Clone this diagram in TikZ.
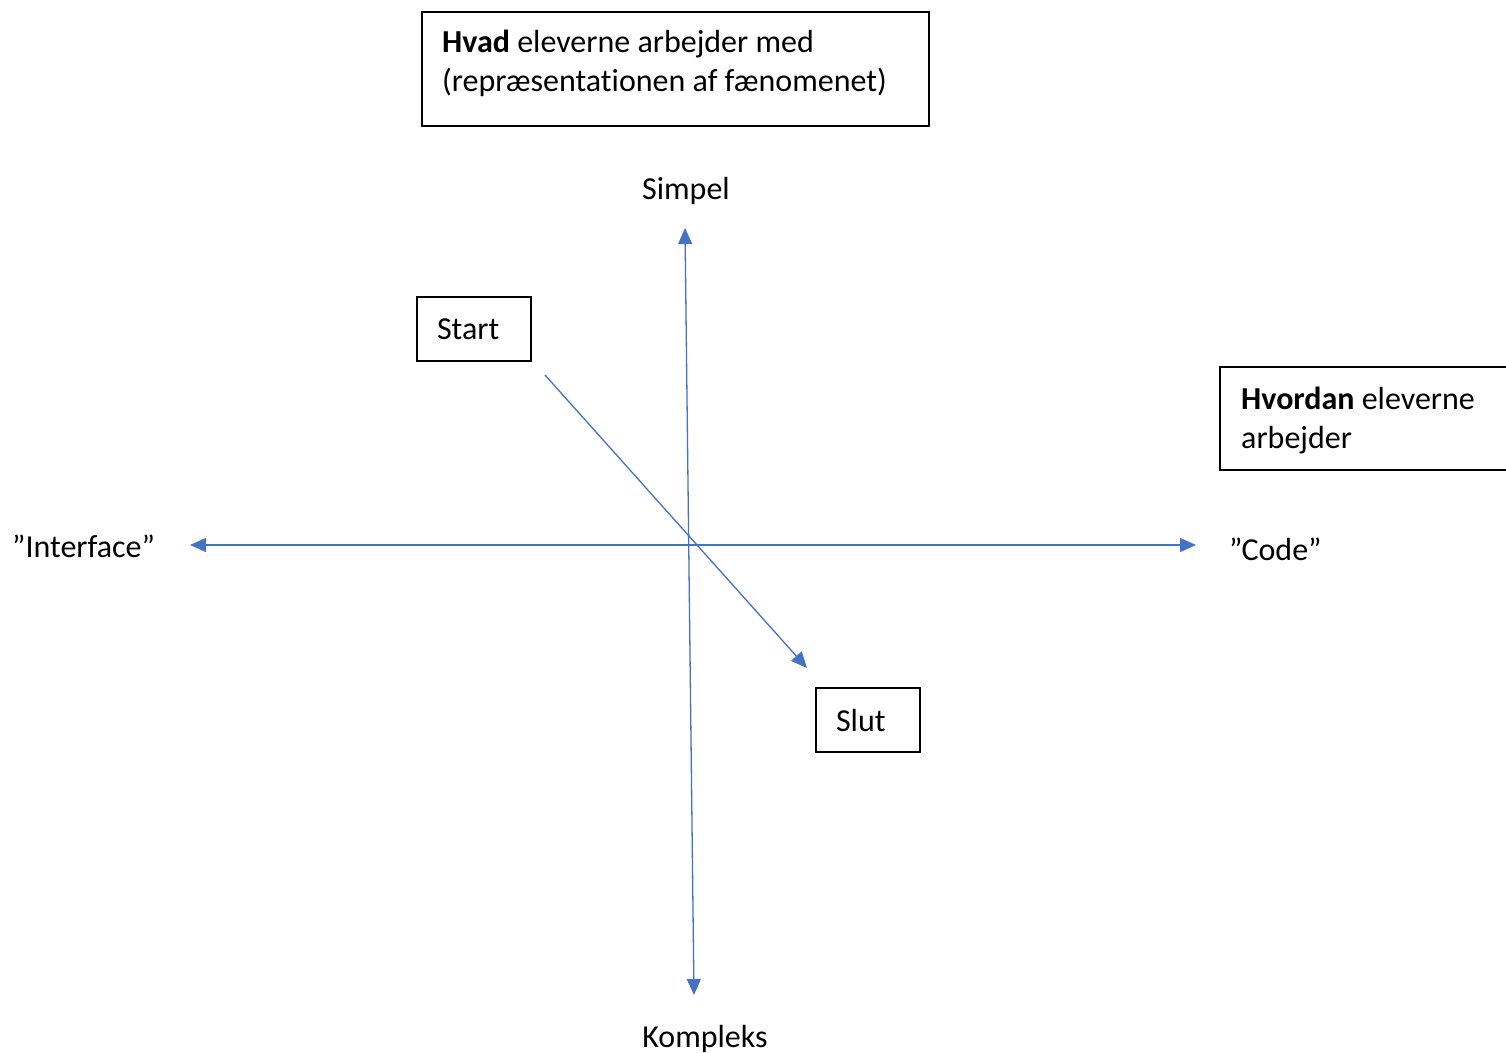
\documentclass[tikz,border=0pt]{standalone}
\usepackage{fontspec}
\setmainfont{Carlito}[Ligatures={NoCommon}]
\usetikzlibrary{arrows.meta}
\definecolor{axisblue}{HTML}{4472C4}
\tikzset{
  txt/.style={inner sep=0pt, font=\fontsize{32}{38.5}\selectfont},
  box/.style={draw=black, line width=1.1pt},
  conn/.style={draw=axisblue, line width=1.3pt, -{Triangle[length=16pt,width=14pt]}},
  dconn/.style={draw=axisblue, line width=1.3pt, {Triangle[length=16pt,width=14pt]}-{Triangle[length=16pt,width=14pt]}},
}
\begin{document}
\begin{tikzpicture}[x=1pt,y=-1pt]
\useasboundingbox[fill=white] (0,0) rectangle (1506,1052);
% boxes
\node[box, minimum width=507pt, minimum height=114pt, inner sep=0pt] (whatbox) at (675.5,69) {};
\node[txt, anchor=north west, align=left] (whattxt) at (442,30) {\textbf{Hvad} eleverne arbejder med\\(repræsentationen af fænomenet)};
\node[box, minimum width=320pt, minimum height=103pt, inner sep=0pt] (howbox) at (1380,418.5) {};
\node[txt, anchor=north west, align=left] (howtxt) at (1241,387) {\textbf{Hvordan} eleverne\\arbejder};
\node[box, txt, minimum height=64pt, text width=74pt, inner xsep=20pt, align=left] (start) at (474,329) {Start};
\node[box, txt, minimum height=64pt, text width=64pt, inner xsep=20pt, align=left] (slut) at (868,720) {Slut};
% axis labels
\node[txt] (simpel) at (686,191) {Simpel};
\node[txt] (kompleks) at (705,1039) {Kompleks};
\node[txt, anchor=west] (interface) at (12,546) {”Interface”};
\node[txt, anchor=west] (code) at (1229,549) {”Code”};
% axes
\coordinate (ytop) at (685,228);
\coordinate (ybot) at (694,995);
\coordinate (xleft) at (190,545);
\coordinate (xright) at (1196,545);
\coordinate (dstart) at (545,375);
\coordinate (dend) at (807,668);
\draw[dconn] (ybot) -- (ytop);
\draw[dconn] (xleft) -- (xright);
\draw[conn] (dstart) -- (dend);
\end{tikzpicture}
\end{document}
